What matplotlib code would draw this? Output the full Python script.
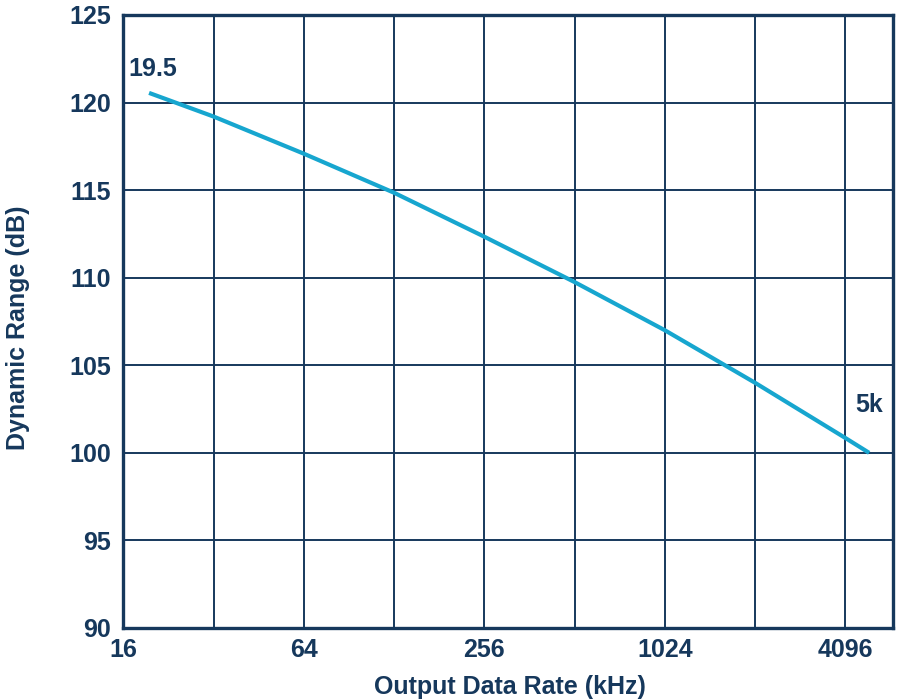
import matplotlib.pyplot as plt
from matplotlib.ticker import FixedLocator, NullLocator


# data
rate_khz = [19.5, 32, 64, 128, 256, 512, 1024, 2048, 4096, 4920]
dyn_range_db = [120.55, 119.2, 117.08, 114.85, 112.34, 109.75, 107.0, 104.0, 100.85, 100.0]

x_ticks = [16, 64, 256, 1024, 4096]
x_tick_labels = ["16", "64", "256", "1024", "4096"]
x_grid = [16, 32, 64, 128, 256, 512, 1024, 2048, 4096]
y_ticks = [90, 95, 100, 105, 110, 115, 120, 125]

start_label = "19.5"
end_label = "5k"

NAVY = "#16385c"
CYAN = "#17a6cf"
NARROW = ["Liberation Sans Narrow", "Liberation Sans", "DejaVu Sans"]
WIDE = ["Liberation Sans", "DejaVu Sans"]


def main() -> None:
	fig = plt.figure(figsize=(9.0, 6.99), dpi=100)
	ax = fig.add_axes([0.137, 0.1016, 0.855, 0.877])

	ax.set_xscale("log", base=2)
	ax.set_xlim(16, 5900)
	ax.set_ylim(90, 125)

	for xv in x_grid:
		ax.axvline(xv, color=NAVY, linewidth=1.4, zorder=1)
	for yv in y_ticks:
		ax.axhline(yv, color=NAVY, linewidth=1.4, zorder=1)

	ax.plot(rate_khz, dyn_range_db, color=CYAN, linewidth=3.0, zorder=3,
		solid_capstyle="butt", solid_joinstyle="round")

	ax.xaxis.set_major_locator(FixedLocator(x_ticks))
	ax.xaxis.set_minor_locator(NullLocator())
	ax.set_xticklabels(x_tick_labels)
	ax.set_yticks(y_ticks)
	ax.tick_params(axis="x", length=0, pad=7, colors=NAVY, labelsize=18)
	ax.tick_params(axis="y", length=0, pad=9, colors=NAVY, labelsize=18)
	for lbl in ax.get_xticklabels() + ax.get_yticklabels():
		lbl.set_family(NARROW)
		lbl.set_fontweight("bold")
		lbl.set_color(NAVY)

	for spine in ax.spines.values():
		spine.set_color(NAVY)
		spine.set_linewidth(2.4)

	ax.set_xlabel("Output Data Rate (kHz)", fontsize=18, fontweight="bold",
		color=NAVY, family=WIDE)
	ax.set_ylabel("Dynamic Range (dB)", fontsize=18, fontweight="bold",
		color=NAVY, family=WIDE)
	ax.xaxis.set_label_coords(0.503, -0.077)
	ax.yaxis.set_label_coords(-0.121, 0.49)

	ax.annotate(start_label, xy=(rate_khz[0], dyn_range_db[0]), xytext=(-15, 12),
		textcoords="offset points", fontsize=18, fontweight="bold",
		color=NAVY, family=NARROW, ha="left", va="baseline")
	ax.annotate(end_label, xy=(rate_khz[-1], dyn_range_db[-1]), xytext=(-10, 29.5),
		textcoords="offset points", fontsize=18, fontweight="bold",
		color=NAVY, family=NARROW, ha="left", va="baseline")

	fig.savefig("out.png", dpi=100)


if __name__ == "__main__":
	main()
